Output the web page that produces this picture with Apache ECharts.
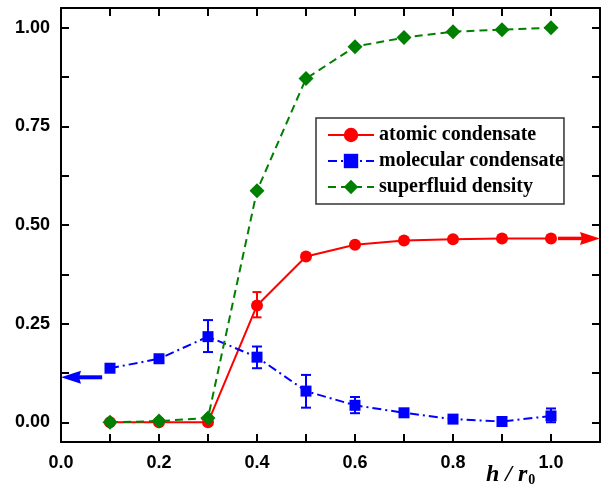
<!DOCTYPE html>
<html>
<head>
<meta charset="utf-8">
<script src="https://cdn.jsdelivr.net/npm/echarts@6/dist/echarts.min.js"></script>
<style>
html,body{margin:0;padding:0;background:#fff;}
#chart{width:602px;height:493px;}
</style>
</head>
<body>
<div id="chart"></div>
<script>
// ---- data ----
const xValues = [0.1, 0.2, 0.3, 0.4, 0.5, 0.6, 0.7, 0.8, 0.9, 1.0];
const atomic = [0, 0, 0, 0.296, 0.42, 0.45, 0.461, 0.464, 0.466, 0.466];
const molecular = [0.137, 0.161, 0.217, 0.165, 0.079, 0.043, 0.024, 0.008, 0.002, 0.016];
const superfluid = [0, 0.003, 0.011, 0.587, 0.871, 0.952, 0.975, 0.99, 0.995, 1.0];
// error bars: [x, low, high]
const atomicErr = [[0.4, 0.266, 0.33]];
const molecularErr = [[0.3, 0.178, 0.259], [0.4, 0.137, 0.192], [0.5, 0.037, 0.12], [0.6, 0.023, 0.064], [1.0, 0.0, 0.035]];
// arrows: [xFrom, xTo, y]
const molecularArrow = [[0.084, 0, 0.114]];
const atomicArrow = [[1.014, 1.1, 0.466]];
// ticks & labels
const xTicks = [0, 0.1, 0.2, 0.3, 0.4, 0.5, 0.6, 0.7, 0.8, 0.9, 1.0, 1.1];
const xLabels = [0, 0.2, 0.4, 0.6, 0.8, 1.0];
const yTicks = [0, 0.125, 0.25, 0.375, 0.5, 0.625, 0.75, 0.875, 1.0];
const yLabels = [0, 0.25, 0.5, 0.75, 1.0];
const seriesNames = ['atomic condensate', 'molecular condensate', 'superfluid density'];

const RED = '#ff0000', BLUE = '#0000ff', GREEN = '#008000';

function zip(xs, ys) { return xs.map((x, i) => [x, ys[i]]); }

function errRender(color, cap) {
  return function (params, api) {
    const top = api.coord([api.value(0), api.value(2)]);
    const bot = api.coord([api.value(0), api.value(1)]);
    const st = { stroke: color, lineWidth: 2 };
    return {
      type: 'group',
      children: [
        { type: 'line', shape: { x1: top[0], y1: top[1], x2: bot[0], y2: bot[1] }, style: st },
        { type: 'line', shape: { x1: top[0] - cap, y1: top[1], x2: top[0] + cap, y2: top[1] }, style: st },
        { type: 'line', shape: { x1: bot[0] - cap, y1: bot[1], x2: bot[0] + cap, y2: bot[1] }, style: st }
      ]
    };
  };
}

function arrowRender(color, lw) {
  return function (params, api) {
    const a = api.coord([api.value(0), api.value(2)]);
    const b = api.coord([api.value(1), api.value(2)]);
    const dir = b[0] > a[0] ? 1 : -1;
    const head = 20, hw = 6.5;
    const bx = b[0] - dir * head;
    return {
      type: 'group',
      children: [
        { type: 'line', shape: { x1: a[0], y1: a[1], x2: bx + dir * 3, y2: b[1] }, style: { stroke: color, lineWidth: lw } },
        { type: 'polygon', shape: { points: [[b[0], b[1]], [bx, b[1] - hw], [bx + dir * 2, b[1]], [bx, b[1] + hw]] }, style: { fill: color } }
      ]
    };
  };
}

const axisFont = { fontFamily: 'Liberation Sans, Arial', fontWeight: 'bold', fontSize: 18, color: '#000' };
const axisLineStyle = { show: true, onZero: false, lineStyle: { color: '#000', width: 2 } };
const tickStyle = { show: true, inside: true, length: 8, lineStyle: { color: '#000', width: 2 } };

const chart = echarts.init(document.getElementById('chart'), null, { renderer: 'canvas' });
chart.setOption({
  animation: false,
  backgroundColor: '#fff',
  title: {
    text: '{i|h / r}{s|0}',
    left: 481, top: 456,
    textStyle: {
      rich: {
        i: { fontFamily: 'Liberation Serif, Times New Roman', fontStyle: 'italic', fontWeight: 'bold', fontSize: 24, color: '#000', verticalAlign: 'bottom', lineHeight: 26 },
        s: { fontFamily: 'Liberation Serif, Times New Roman', fontWeight: 'bold', fontSize: 14, color: '#000', verticalAlign: 'bottom', lineHeight: 14, padding: [0, 0, 0, 1] }
      }
    }
  },
  legend: {
    data: seriesNames,
    orient: 'vertical',
    left: 316, top: 118,
    padding: [7, 0, 7, 11],
    itemGap: 6,
    itemWidth: 46, itemHeight: 18,
    borderColor: '#333', borderWidth: 1.5, borderRadius: 0,
    backgroundColor: '#fff',
    textStyle: { fontFamily: 'Liberation Serif, Times New Roman', fontWeight: 'bold', fontSize: 20, color: '#000', lineHeight: 20 }
  },
  grid: { left: 61, right: 2, top: 8, bottom: 51, containLabel: false },
  xAxis: [
    {
      type: 'value', min: 0, max: 1.1, position: 'bottom',
      axisLine: axisLineStyle, splitLine: { show: false },
      axisTick: Object.assign({ customValues: xTicks }, tickStyle),
      axisLabel: Object.assign({ margin: 12, customValues: xLabels, formatter: v => v.toFixed(1) }, axisFont)
    },
    {
      type: 'value', min: 0, max: 1.1, position: 'top',
      axisLine: axisLineStyle, splitLine: { show: false },
      axisTick: Object.assign({ customValues: xTicks }, tickStyle),
      axisLabel: { show: false }
    }
  ],
  yAxis: [
    {
      type: 'value', min: -0.05, max: 1.05, position: 'left',
      axisLine: axisLineStyle, splitLine: { show: false },
      axisTick: Object.assign({ customValues: yTicks }, tickStyle),
      axisLabel: Object.assign({ margin: 11, customValues: yLabels, formatter: v => v.toFixed(2) }, axisFont)
    },
    {
      type: 'value', min: -0.05, max: 1.05, position: 'right',
      axisLine: axisLineStyle, splitLine: { show: false },
      axisTick: Object.assign({ customValues: yTicks }, tickStyle),
      axisLabel: { show: false }
    }
  ],
  series: [
    {
      name: seriesNames[0], type: 'line', data: zip(xValues, atomic),
      symbol: 'circle', symbolSize: 12,
      lineStyle: { color: RED, width: 2 }, itemStyle: { color: RED }, z: 3
    },
    {
      name: seriesNames[1], type: 'line', data: zip(xValues, molecular),
      symbol: 'rect', symbolSize: 11,
      lineStyle: { color: BLUE, width: 2, type: [9, 4, 2, 4] }, itemStyle: { color: BLUE }, z: 4
    },
    {
      name: seriesNames[2], type: 'line', data: zip(xValues, superfluid),
      symbol: 'diamond', symbolSize: 15,
      lineStyle: { color: GREEN, width: 2, type: [8, 5] }, itemStyle: { color: GREEN }, z: 5
    },
    {
      type: 'custom', renderItem: errRender(RED, 4.5), data: atomicErr,
      encode: { x: 0, y: [1, 2] }, z: 2, silent: true
    },
    {
      type: 'custom', renderItem: errRender(BLUE, 5), data: molecularErr,
      encode: { x: 0, y: [1, 2] }, z: 2, silent: true
    },
    {
      type: 'custom', renderItem: arrowRender(BLUE, 4), data: molecularArrow,
      encode: { x: [0, 1], y: 2 }, z: 6, silent: true, clip: false
    },
    {
      type: 'custom', renderItem: arrowRender(RED, 3.5), data: atomicArrow,
      encode: { x: [0, 1], y: 2 }, z: 6, silent: true, clip: false
    }
  ]
});
</script>
</body>
</html>
